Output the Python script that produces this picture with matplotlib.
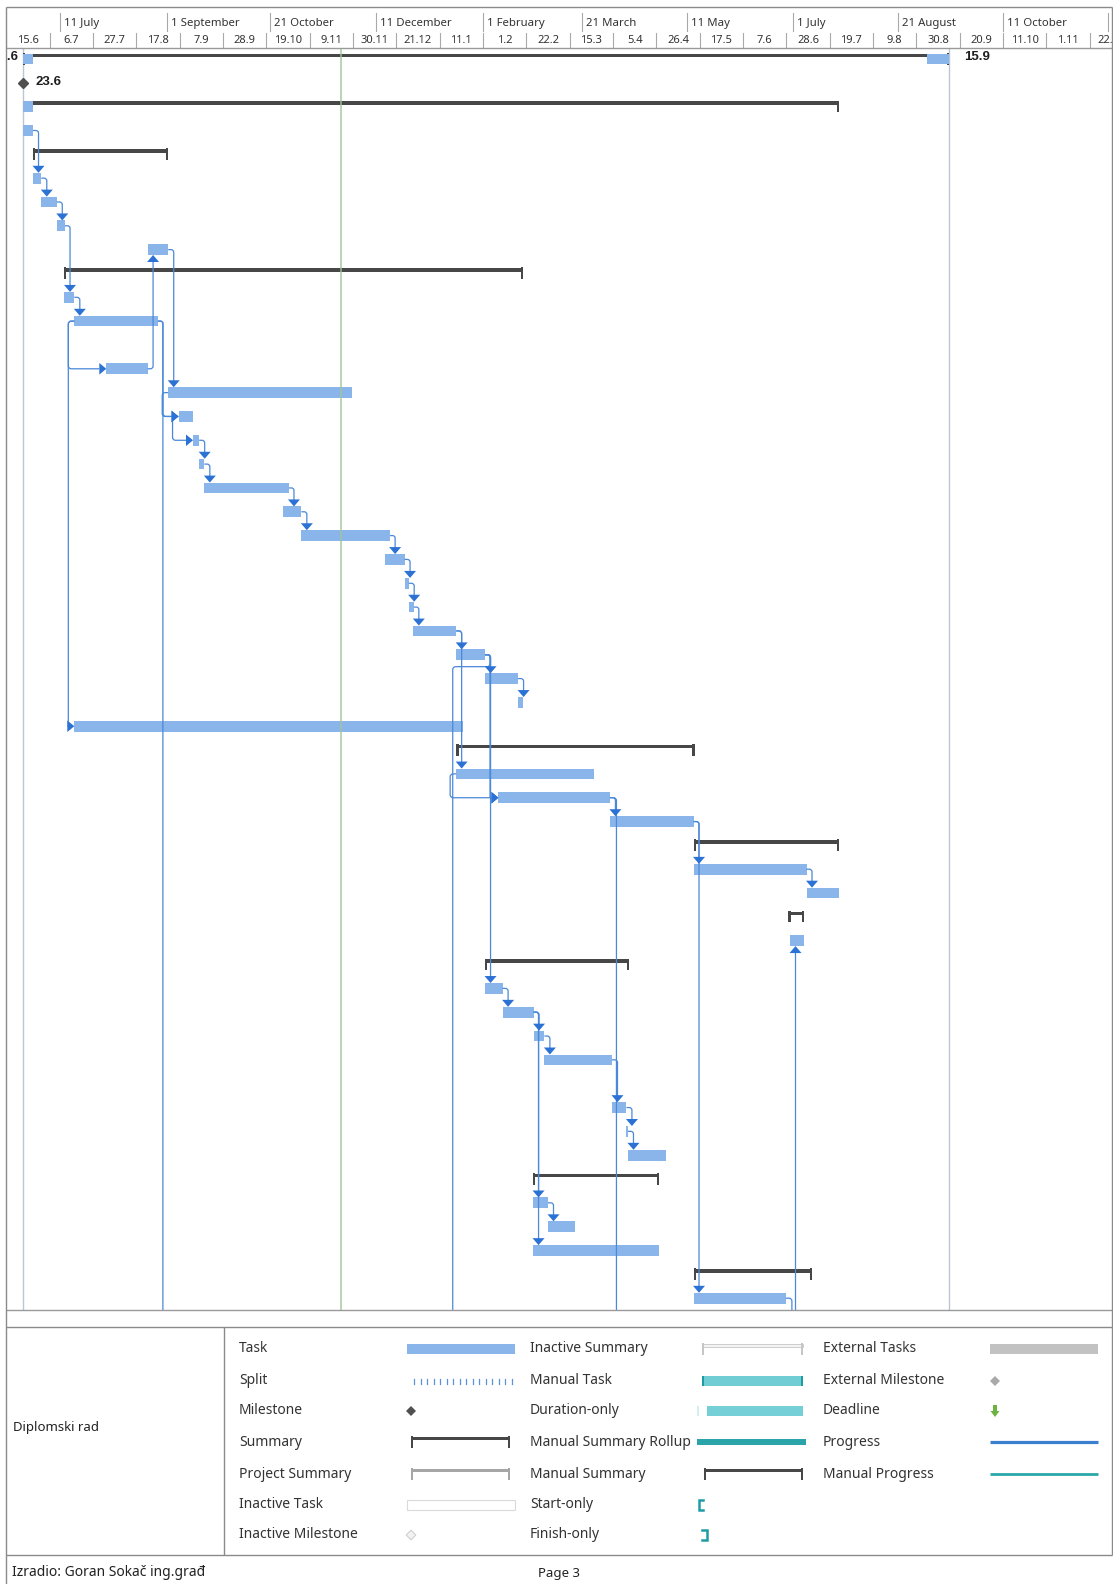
import numpy as np
import pandas as pd
import matplotlib
matplotlib.use("Agg")
import matplotlib.pyplot as plt
import matplotlib.dates as mdates
from matplotlib.path import Path
from matplotlib.patches import PathPatch, Polygon, Rectangle
from matplotlib.transforms import Affine2D

plt.rcParams['font.family'] = ['Noto Sans', 'DejaVu Sans']

W, H = 1113, 1584

# ------------------------------------------------------------------ data
scale_origin = "2014-06-15"
minor_step_days = 21
minor_count = 27
major_dates = ["2014-07-11", "2014-09-01", "2014-10-21", "2014-12-11", "2015-02-01",
               "2015-03-21", "2015-05-11", "2015-07-01", "2015-08-21", "2015-10-11",
               "2015-12-01"]
major_labels = ["11 July", "1 September", "21 October", "11 December", "1 February",
                "21 March", "11 May", "1 July", "21 August", "11 October", "1 December"]

project_start = "2014-06-23"
status_date = "2014-11-24"
project_finish = "2015-09-15"

task_rows = [1, 2, 3, 4, 5, 6, 7, 8, 9, 10, 11, 12, 14, 15, 16, 17, 18, 19, 20, 21,
             22, 23, 24, 25, 26, 27, 28, 29, 30, 31, 32, 33, 34, 35, 36, 37, 38, 39,
             40, 41, 42, 43, 45, 46, 47, 48, 49, 50, 51, 52, 53]
task_kinds = ["project", "milestone", "summary", "task", "summary", "task", "task", "task",
              "task", "summary", "task", "task", "task", "task", "task", "task", "task",
              "task", "task", "task", "task", "task", "task", "task", "task", "task",
              "task", "task", "summary", "task", "task", "task", "summary", "task", "task",
              "summary", "task", "summary", "task", "task", "task", "task", "task", "task",
              "task", "summary", "task", "task", "task", "summary", "task"]
task_starts = ["2014-06-23", "2014-06-23", "2014-06-23", "2014-06-23", "2014-06-28",
               "2014-06-28", "2014-07-02", "2014-07-09 12:00", "2014-08-22 12:00",
               "2014-07-13", "2014-07-13", "2014-07-18", "2014-08-02 12:00",
               "2014-09-01 12:00", "2014-09-06 12:00", "2014-09-13 12:00",
               "2014-09-16 12:00", "2014-09-19", "2014-10-27", "2014-11-05",
               "2014-12-15 12:00", "2014-12-25", "2014-12-27", "2014-12-29", "2015-01-19",
               "2015-02-02", "2015-02-18", "2014-07-18", "2015-01-19", "2015-01-19",
               "2015-02-08 12:00", "2015-04-03 12:00", "2015-05-14", "2015-05-14",
               "2015-07-07 18:00", "2015-06-29", "2015-06-29 18:00", "2015-02-02",
               "2015-02-02", "2015-02-10 12:00", "2015-02-25 12:00", "2015-03-02 18:00",
               "2015-04-04 12:00", "2015-04-11 12:00", "2015-04-12 06:00", "2015-02-25",
               "2015-02-25", "2015-03-04 12:00", "2015-02-25", "2015-05-14", "2015-05-14"]
task_finishes = ["2015-09-15", "2014-06-23", "2015-07-23 12:00", "2014-06-28",
                 "2014-09-01 12:00", "2014-07-02", "2014-07-09 12:00", "2014-07-13 12:00",
                 "2014-09-01 12:00", "2015-02-20 12:00", "2014-07-18", "2014-08-27 12:00",
                 "2014-08-22 12:00", "2014-11-29 12:00", "2014-09-13 12:00",
                 "2014-09-16 12:00", "2014-09-19", "2014-10-30", "2014-11-05", "2014-12-18",
                 "2014-12-25", "2014-12-27", "2014-12-29 12:00", "2015-01-19", "2015-02-02",
                 "2015-02-18", "2015-02-20 12:00", "2015-01-22 12:00", "2015-05-14 12:00",
                 "2015-03-27", "2015-04-03 12:00", "2015-05-14", "2015-07-23 12:00",
                 "2015-07-07 18:00", "2015-07-23 12:00", "2015-07-06 18:00",
                 "2015-07-06 18:00", "2015-04-12 18:00", "2015-02-10 12:00",
                 "2015-02-25 12:00", "2015-03-02 18:00", "2015-04-04 12:00",
                 "2015-04-11 12:00", "2015-04-12 06:00", "2015-04-30 12:00",
                 "2015-04-27 12:00", "2015-03-04 12:00", "2015-03-17 12:00",
                 "2015-04-27 12:00", "2015-07-10 12:00", "2015-06-27 18:00"]

rollup_rows = [1, 1, 3]
rollup_starts = ["2014-06-23", "2015-09-04", "2014-06-23"]
rollup_finishes = ["2014-06-28", "2015-09-15", "2014-06-28"]

# tasks printed on the following page (only their link lines reach this page)
offpage_ids = [101, 102, 103, 104, 105]
offpage_rows = [56, 56, 56, 57, 56]
offpage_starts = ["2014-09-03", "2015-01-20 06:00", "2015-04-04", "2015-06-20", "2015-06-28"]
offpage_finishes = ["2014-09-20", "2015-01-21", "2015-04-25", "2015-06-29 18:00", "2015-07-10"]

link_from = [4, 6, 7, 8, 11, 14, 9, 12, 12, 17, 18, 19, 20, 21, 22, 23, 24, 25, 25, 26,
             27, 26, 26, 26, 32, 32, 33, 33, 35, 104, 53, 40, 41, 41, 41, 42, 43, 45, 46,
             49, 12, 12, 15, 16, 31]
link_to = [6, 7, 8, 11, 12, 9, 15, 16, 101, 18, 19, 20, 21, 22, 23, 24, 25, 26, 31, 27,
           28, 32, 40, 102, 33, 103, 35, 53, 36, 38, 105, 41, 42, 49, 51, 43, 45, 46, 47,
           50, 14, 29, 16, 17, 32]
link_type = ["FS"] * 40 + ["SS"] * 5

legend_col1 = ["Task", "Split", "Milestone", "Summary", "Project Summary", "Inactive Task",
               "Inactive Milestone"]
legend_col2 = ["Inactive Summary", "Manual Task", "Duration-only", "Manual Summary Rollup",
               "Manual Summary", "Start-only", "Finish-only"]
legend_col3 = ["External Tasks", "External Milestone", "Deadline", "Progress",
               "Manual Progress"]
project_name = "Diplomski rad"
footer_left = "Izradio: Goran Sokač ing.građ"
footer_center = "Page 3"

# ------------------------------------------------------------------ style / layout
TASK_C = "#8AB5EA"
SUM_C = "#474747"
LINK_C = "#4A88DA"
HEAD_C = "#2C72D4"
FRAME_C = "#8A8A8A"
SEP_C = "#A9A9A9"
TXT_C = "#333333"
BOLD_FAM = ['Liberation Sans', 'DejaVu Sans']

CH_L, CH_R = 6.0, 1111.5
HD_T, HD_B = 7.0, 47.5
BODY_B = 1310.0
ORIGIN_PX = 6.2
PX_PER_DAY = 2.064
ROW1_Y = 59.0
ROW_PX = 23.83
HB = 5.35          # half bar height (px)

def num(s):
    return mdates.date2num(pd.Timestamp(s))

def dm(v):
    t = mdates.num2date(v)
    return f"{t.day}.{t.month}"

origin = num(scale_origin)
x_lo = origin + (CH_L - ORIGIN_PX) / PX_PER_DAY
x_hi = origin + (CH_R - ORIGIN_PX) / PX_PER_DAY
r_top = 1 + (HD_B - ROW1_Y) / ROW_PX
r_bot = 1 + (BODY_B - ROW1_Y) / ROW_PX
dpx = 1.0 / PX_PER_DAY   # days per pixel
upx = 1.0 / ROW_PX       # rows per pixel

fig = plt.figure(figsize=(W / 100, H / 100), dpi=100)
fig.patch.set_facecolor("white")

ax = fig.add_axes([CH_L / W, 1 - BODY_B / H, (CH_R - CH_L) / W, (BODY_B - HD_B) / H])
ax.set_xlim(x_lo, x_hi)
ax.set_ylim(r_bot, r_top)
ax.set_axis_off()

S = np.array([num(s) for s in task_starts])
F = np.array([num(s) for s in task_finishes])
R = np.array(task_rows, dtype=float)
K = np.array(task_kinds)

# reference lines
ax.axvline(num(project_start), color="#BCC6D2", lw=1.0, zorder=1)
ax.axvline(num(project_finish), color="#BCC6D2", lw=1.0, zorder=1)
ax.axvline(num(status_date), color="#A2C49A", lw=1.2, zorder=7, alpha=0.85)

# task bars
m = K == "task"
ax.barh(R[m], F[m] - S[m], left=S[m], height=2 * HB * upx, color=TASK_C, lw=0, zorder=3)

# summary bars
m = (K == "summary") | (K == "project")
ax.barh(R[m] - 3.4 * upx, F[m] - S[m], left=S[m], height=3.6 * upx, color=SUM_C, lw=0, zorder=4)
cap = 2.4 * dpx
ax.barh(R[m] - 0.25 * upx, cap, left=S[m], height=11.5 * upx, color=SUM_C, lw=0, zorder=4)
ax.barh(R[m] - 0.25 * upx, cap, left=F[m] - cap, height=11.5 * upx, color=SUM_C, lw=0, zorder=4)

# rolled-up tasks on summary rows
RS = np.array([num(s) for s in rollup_starts])
RF = np.array([num(s) for s in rollup_finishes])
ax.barh(np.array(rollup_rows, float), RF - RS, left=RS, height=2 * HB * upx, color=TASK_C,
        lw=0, zorder=5)

# milestone
m = K == "milestone"
ax.plot(S[m], R[m], ls="none", marker="D", ms=5.6, color="#4F4F4F", zorder=6)
for s, r in zip(S[m], R[m]):
    ax.text(s + 12.7 * dpx, r - 1.0 * upx, dm(s), ha="left", va="center", fontsize=9.5,
            fontweight="bold", family=BOLD_FAM, color="#1E1E1E", clip_on=True)

# project row date labels
m = K == "project"
for s, f, r in zip(S[m], F[m], R[m]):
    ax.text(s - 4 * dpx, r - 1.7 * upx, dm(s), ha="right", va="center", fontsize=9.5,
            fontweight="bold", family=BOLD_FAM, color="#1E1E1E", clip_on=True)
    ax.text(f + 15 * dpx, r - 1.7 * upx, dm(f), ha="left", va="center", fontsize=9.5,
            fontweight="bold", family=BOLD_FAM, color="#1E1E1E", clip_on=True)

# ------------------------------------------------------------------ links
img2disp = Affine2D().scale(1, -1).translate(0, H)

def P(xnum, row):
    dx, dy = ax.transData.transform((xnum, row))
    return dx, H - dy

info = {}
for tid, s, f in zip(task_rows, S, F):
    info[tid] = (s, f, float(tid))
for tid, r, s, f in zip(offpage_ids, offpage_rows, offpage_starts, offpage_finishes):
    info[tid] = (num(s), num(f), float(r))

AH, AW = 7.0, 6.0
AL, AHW = 7.0, 5.8

def geom(p, q, kind):
    pxs, py = P(p[0], p[2]); pxf, _ = P(p[1], p[2])
    qxs, qy = P(q[0], q[2]); qxf, _ = P(q[1], q[2])
    if kind == "SS":
        xl = min(pxs, qxs) - 6
        return [(pxs, py), (xl, py), (xl, qy), (qxs - AL, qy)], ("right", qxs, qy)
    if qy > py:
        if qxs > pxf + 8:
            xv = pxf + 5
            return [(pxf, py), (xv, py), (xv, qy), (qxs - AL, qy)], ("right", qxs, qy)
        if qxf < pxf:
            xv = pxf + 5
            ym = py + ROW_PX / 2
            xl = qxs - 6
            return ([(pxf, py), (xv, py), (xv, ym), (xl, ym), (xl, qy), (qxs - AL, qy)],
                    ("right", qxs, qy))
        xv = max(pxf + 5, qxs + 5.5)
        top = qy - HB
        return [(pxf, py), (xv, py), (xv, top - AH + 1)], ("down", xv, top)
    xv = max(pxf + 5, qxs + 5.5)
    bot = qy + HB
    return [(pxf, py), (xv, py), (xv, bot + AH - 1)], ("up", xv, bot)

def rounded(pts, r=3.0):
    verts = [pts[0]]
    codes = [Path.MOVETO]
    for i in range(1, len(pts) - 1):
        p0, p1, p2 = (np.array(pts[i - 1]), np.array(pts[i]), np.array(pts[i + 1]))
        d1 = p1 - p0; l1 = np.hypot(*d1)
        d2 = p2 - p1; l2 = np.hypot(*d2)
        if l1 < 1e-6 or l2 < 1e-6:
            continue
        rr = min(r, l1 / 2, l2 / 2)
        a = p1 - d1 / l1 * rr
        b = p1 + d2 / l2 * rr
        verts += [tuple(a), tuple(p1), tuple(b)]
        codes += [Path.LINETO, Path.CURVE3, Path.CURVE3]
    verts.append(pts[-1])
    codes.append(Path.LINETO)
    return Path(verts, codes)

for a, b, kind in zip(link_from, link_to, link_type):
    pts, head = geom(info[a], info[b], kind)
    pp = PathPatch(rounded(pts), fill=False, edgecolor=LINK_C, lw=0.9, transform=img2disp,
                   zorder=8)
    ax.add_artist(pp)
    pp.set_clip_path(ax.patch)
    d, x, y = head
    if d == "down":
        tri = [(x - AW, y - AH), (x + AW, y - AH), (x, y)]
    elif d == "up":
        tri = [(x - AW, y + AH), (x + AW, y + AH), (x, y)]
    else:
        tri = [(x - AL, y - AHW), (x - AL, y + AHW), (x, y)]
    pg = Polygon(tri, closed=True, facecolor=HEAD_C, edgecolor="none", transform=img2disp,
                 zorder=9)
    ax.add_artist(pg)
    pg.set_clip_path(ax.patch)

# ------------------------------------------------------------------ timescale header
hx = fig.add_axes([CH_L / W, 1 - HD_B / H, (CH_R - CH_L) / W, (HD_B - HD_T) / H])
hx.set_xlim(x_lo, x_hi)
hx.set_ylim(HD_B, HD_T)
hx.set_axis_off()
minor = pd.date_range(scale_origin, periods=minor_count, freq=f"{minor_step_days}D")
for d in minor:
    v = num(d)
    hx.plot([v, v], [33, HD_B], color=SEP_C, lw=0.8)
    hx.text(v + minor_step_days / 2, 40.8, f"{d.day}.{d.month}", ha="center", va="center",
            fontsize=8, color=TXT_C, clip_on=True)
for d, lab in zip(major_dates, major_labels):
    v = num(d)
    hx.plot([v, v], [12.5, 31], color=SEP_C, lw=0.8)
    hx.text(v + 4 * dpx, 23.3, lab, ha="left", va="center", fontsize=8.2, color=TXT_C,
            clip_on=True)

# ------------------------------------------------------------------ frame & legend
ov = fig.add_axes([0, 0, 1, 1], zorder=10)
ov.set_xlim(0, W)
ov.set_ylim(H, 0)
ov.set_axis_off()

def hl(y, x0, x1, c=FRAME_C, lw=1.0):
    ov.plot([x0, x1], [y, y], color=c, lw=lw, solid_capstyle="butt")

def vl(x, y0, y1, c=FRAME_C, lw=1.0):
    ov.plot([x, x], [y0, y1], color=c, lw=lw, solid_capstyle="butt")

hl(HD_T, CH_L, CH_R)
hl(HD_B, CH_L, CH_R, c="#9A9A9A")
hl(BODY_B, CH_L, CH_R, c="#9A9A9A")
LG_T, LG_B = 1326.5, 1555.0
hl(LG_T, CH_L, CH_R)
hl(LG_B, CH_L, CH_R)
vl(CH_L, HD_T, H)
vl(CH_R, HD_T, LG_B)
vl(224, LG_T, LG_B)

ly = [1349, 1381, 1411, 1442, 1474, 1505, 1535]
for lab, y in zip(legend_col1, ly):
    ov.text(239, y, lab, ha="left", va="center", fontsize=10, color=TXT_C)
for lab, y in zip(legend_col2, ly):
    ov.text(530, y, lab, ha="left", va="center", fontsize=10, color=TXT_C)
for lab, y in zip(legend_col3, ly):
    ov.text(823, y, lab, ha="left", va="center", fontsize=10, color=TXT_C)

def rect(x0, x1, yc, h, fc, ec="none", lw=0.0):
    ov.add_patch(Rectangle((x0, yc - h / 2), x1 - x0, h, facecolor=fc, edgecolor=ec, lw=lw))

def diamond(x, y, s, fc, ec="none"):
    ov.add_patch(Polygon([(x - s, y), (x, y - s), (x + s, y), (x, y + s)], closed=True,
                         facecolor=fc, edgecolor=ec, lw=0.8))

def summary_sym(x0, x1, y, c, fc=None):
    rect(x0, x1, y - 3.4, 3.6, fc if fc else c, ec=c if fc else "none", lw=0.6 if fc else 0)
    rect(x0, x0 + 2.4, y - 0.25, 11.5, c)
    rect(x1 - 2.4, x1, y - 0.25, 11.5, c)

# column 1 symbols
rect(407, 515, ly[0], 10.4, TASK_C)
for x in np.arange(414, 514, 6.5):
    ov.plot([x, x], [ly[1] - 2.5, ly[1] + 2.5], color="#5B93DB", lw=0.9)
diamond(411, ly[2], 5.0, "#505050")
summary_sym(411, 510, ly[3], SUM_C)
summary_sym(411, 510, ly[4], "#A6A6A6")
rect(407, 515, ly[5], 10.4, "white", ec="#DADADA", lw=0.8)
diamond(411, ly[6], 4.8, "#F2F2F2", ec="#D0D0D0")

# column 2 symbols
summary_sym(702, 803, ly[0], "#C6C6C6", fc="#F4F4F4")
rect(702, 803, ly[1], 10.4, "#70CDD4")
rect(702, 704.4, ly[1], 10.4, "#1E9CA4")
rect(800.6, 803, ly[1], 10.4, "#1E9CA4")
rect(697, 698.5, ly[2], 10.4, "#D3EEF0")
rect(707, 803, ly[2], 10.4, "#74CFD6")
rect(697, 806, ly[3], 6, "#2BA4A9")
summary_sym(704, 803, ly[4], SUM_C)
ov.plot([703, 698.5, 698.5, 703], [ly[5] - 5, ly[5] - 5, ly[5] + 5, ly[5] + 5],
        color="#1E9CA4", lw=1.8, solid_joinstyle="miter")
ov.plot([702, 706.5, 706.5, 702], [ly[6] - 5, ly[6] - 5, ly[6] + 5, ly[6] + 5],
        color="#1E9CA4", lw=1.8, solid_joinstyle="miter")

# column 3 symbols
rect(990, 1098, ly[0], 10.4, "#C2C2C2")
diamond(995, ly[1], 5.0, "#A9A9A9")
rect(993, 997, ly[2] - 3, 7, "#6DB33F")
ov.add_patch(Polygon([(990.5, ly[2]), (999.5, ly[2]), (995, ly[2] + 6)], closed=True,
                     facecolor="#6DB33F", edgecolor="none"))
hl(ly[3], 990, 1098, c="#3A7FD0", lw=2.3)
hl(ly[4], 990, 1098, c="#2AA7A7", lw=2.0)

ov.text(13, 1428, project_name, ha="left", va="center", fontsize=9.5, color="#222222")
ov.text(12, 1573, footer_left, ha="left", va="center", fontsize=10, color="#222222")
ov.text(559, 1573, footer_center, ha="center", va="center", fontsize=9.5, color="#222222")

fig.savefig("out.png", dpi=100, facecolor="white")
